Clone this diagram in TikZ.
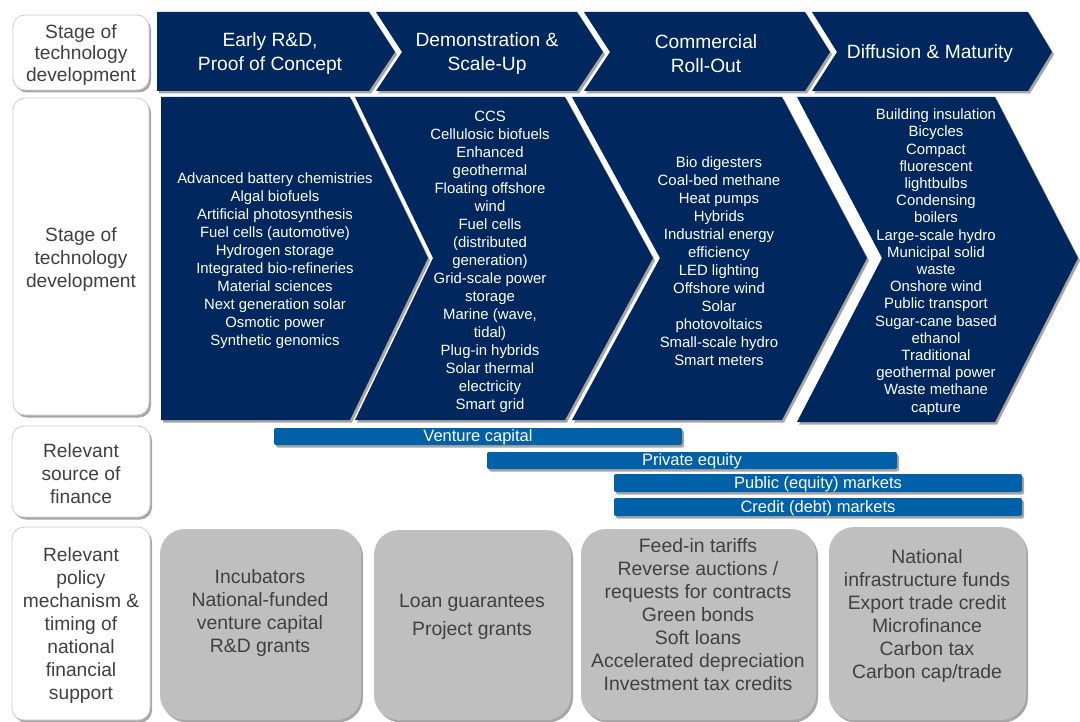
\documentclass[tikz,border=0pt]{standalone}
\usepackage{fontspec}
\setmainfont{Liberation Sans}
\usetikzlibrary{shadows}
\definecolor{navy}{RGB}{0,40,94}
\definecolor{barblue}{RGB}{0,96,168}
\definecolor{boxgray}{RGB}{191,191,191}
\definecolor{txtgray}{RGB}{64,64,64}
\definecolor{edgegray}{RGB}{205,205,205}
\begin{document}
\begin{tikzpicture}[x=1pt,y=-1pt,
  shad/.style={drop shadow={shadow xshift=2pt,shadow yshift=-2.5pt,opacity=0.35,fill=black}},
  chev/.style={fill=navy,shad},
  headtxt/.style={text=white,align=center,inner sep=0pt,font=\fontsize{19.2}{24}\selectfont},
  bodytxt/.style={text=white,align=center,inner sep=0pt,font=\fontsize{14.9}{18}\selectfont},
  lbox/.style={draw=edgegray,line width=0.8pt,fill=white,rounded corners=12pt,shad},
  ltxt/.style={text=txtgray,align=center,inner sep=0pt,font=\fontsize{19.2}{23}\selectfont},
  gbox/.style={fill=boxgray,rounded corners=25pt,shad},
  gtxt/.style={text=txtgray,align=center,inner sep=0pt,font=\fontsize{19.4}{23}\selectfont},
  bar/.style={fill=barblue,rounded corners=2pt,shad},
  bartxt/.style={text=white,inner sep=0pt,font=\fontsize{16.5}{16.5}\selectfont},
]
\useasboundingbox (0,0) rectangle (1080,722);

% left column boxes
\path[lbox] (13,15) rectangle (149,90);
\path[lbox] (13,98) rectangle (149,415);
\path[lbox] (12,426) rectangle (150,517);
\path[lbox] (12,527) rectangle (150,720);
\node[ltxt,font=\fontsize{19.2}{21.5}\selectfont] (l1) at (81,55) {Stage of\\technology\\development};
\node[ltxt] (l2) at (81,260) {Stage of\\technology\\development};
\node[ltxt] (l3) at (81,474) {Relevant\\source of\\finance};
\node[ltxt] (l4) at (81,626) {Relevant\\policy\\mechanism \&\\timing of\\national\\financial\\support};

% header chevrons
\path[chev] (157,12) -- (369,12) -- (395,52) -- (369,91) -- (157,91) -- cycle;
\path[chev] (376,12) -- (577,12) -- (603,52) -- (577,91) -- (376,91) -- (402,52) -- cycle;
\path[chev] (584,12) -- (805,12) -- (830,52) -- (805,91) -- (584,91) -- (610,52) -- cycle;
\path[chev] (812,12) -- (1028,12) -- (1052,52) -- (1028,91) -- (812,91) -- (837,52) -- cycle;
\node[headtxt] (h1) at (270,54) {Early R\&D,\\Proof of Concept};
\node[headtxt] (h2) at (487,54) {Demonstration \&\\Scale-Up};
\node[headtxt] (h3) at (706,54) {Commercial\\Roll-Out};
\node[headtxt] (h4) at (930,54) {Diffusion \& Maturity};

% body chevrons
\path[chev] (161,97) -- (350,97) -- (428,258) -- (350,420) -- (161,420) -- cycle;
\path[chev] (355,97) -- (565,97) -- (653,258) -- (565,420) -- (355,420) -- (433,258) -- cycle;
\path[chev] (572,97) -- (782,97) -- (867,258) -- (782,420) -- (572,420) -- (660,258) -- cycle;
\path[chev] (797,97) -- (995,97) -- (1078,258) -- (995,422) -- (797,422) -- (882,258) -- cycle;

\node[bodytxt] (b1) at (275,261) {Advanced battery chemistries\\Algal biofuels\\Artificial photosynthesis\\Fuel cells (automotive)\\Hydrogen storage\\Integrated bio-refineries\\Material sciences\\Next generation solar\\Osmotic power\\Synthetic genomics};
\node[bodytxt] (b2) at (490,261.5) {CCS\\Cellulosic biofuels\\Enhanced\\geothermal\\Floating offshore\\wind\\Fuel cells\\(distributed\\generation)\\Grid-scale power\\storage\\Marine (wave,\\tidal)\\Plug-in hybrids\\Solar thermal\\electricity\\Smart grid};
\node[bodytxt] (b3) at (719,261.5) {Bio digesters\\Coal-bed methane\\Heat pumps\\Hybrids\\Industrial energy\\efficiency\\LED lighting\\Offshore wind\\Solar\\photovoltaics\\Small-scale hydro\\Smart meters};
\node[bodytxt,font=\fontsize{14.9}{17.2}\selectfont] (b4) at (936,262) {Building insulation\\Bicycles\\Compact\\fluorescent\\lightbulbs\\Condensing\\boilers\\Large-scale hydro\\Municipal solid\\waste\\Onshore wind\\Public transport\\Sugar-cane based\\ethanol\\Traditional\\geothermal power\\Waste methane\\capture};

% finance bars
\path[bar] (274,428) rectangle (682,445);
\path[bar] (487,452) rectangle (897,469);
\path[bar] (614,474) rectangle (1022,492);
\path[bar] (614,498) rectangle (1022,516);
\node[bartxt] (f1) at (478,437.5) {Venture capital};
\node[bartxt] (f2) at (692,461.5) {Private equity};
\node[bartxt] (f3) at (818,484) {Public (equity) markets};
\node[bartxt] (f4) at (818,508) {Credit (debt) markets};

% policy boxes
\path[gbox] (160,529) rectangle (361,720);
\path[gbox] (374,530) rectangle (571,720);
\path[gbox] (581,529) rectangle (816,720);
\path[gbox] (829,527) rectangle (1026,720);
\node[gtxt] (g1) at (260,613) {Incubators\\National-funded\\venture capital\\R\&D grants};
\node[gtxt,font=\fontsize{19.4}{28}\selectfont] (g2) at (472,617) {Loan guarantees\\Project grants};
\node[gtxt] (g3) at (698,615) {Feed-in tariffs\\Reverse auctions /\\requests for contracts\\Green bonds\\Soft loans\\Accelerated depreciation\\Investment tax credits};
\node[gtxt] (g4) at (927,616) {National\\infrastructure funds\\Export trade credit\\Microfinance\\Carbon tax\\Carbon cap/trade};
\end{tikzpicture}
\end{document}
